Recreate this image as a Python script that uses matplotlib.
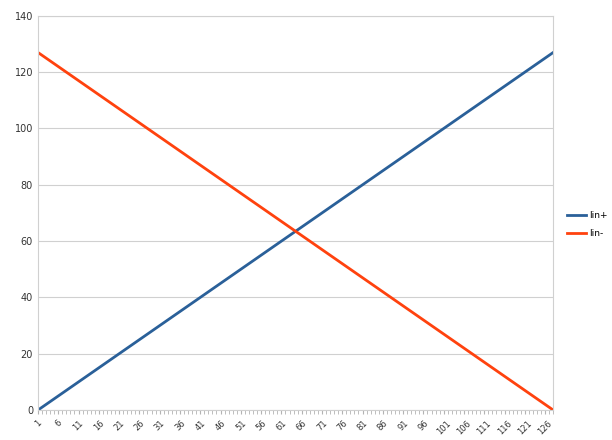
import numpy as np
import matplotlib.pyplot as plt

# categories 1..128, two linear series
categories = list(range(1, 129))
lin_plus = [v - 1 for v in categories]
lin_minus = [128 - v for v in categories]
tick_labels = [str(v) for v in categories if (v - 1) % 5 == 0]

fig = plt.figure(figsize=(6.12, 4.4), dpi=100)
ax = fig.add_axes([0.062, 0.068, 0.842, 0.896])

ax.plot(categories, lin_plus, color='#2a6099', lw=2, label='lin+')
ax.plot(categories, lin_minus, color='#ff420e', lw=2, label='lin-')

ax.set_xlim(1, 128)
ax.set_ylim(0, 140)
ax.set_yticks(range(0, 141, 20))
ax.set_xticks([v for v in categories if (v - 1) % 5 == 0])
ax.set_xticklabels(tick_labels, rotation=45, ha='center', fontsize=6, color='#333333')
ax.set_xticks(categories, minor=True)
ax.tick_params(axis='x', which='both', length=3, color='#b3b3b3', pad=3)
ax.tick_params(axis='y', length=0, labelsize=7, colors='#333333')
ax.yaxis.grid(True, color='#d0d0d0', lw=0.8)
ax.set_axisbelow(True)
for s in ax.spines.values():
    s.set_color('#d0d0d0')

ax.legend(loc='center left', bbox_to_anchor=(1.01, 0.47), frameon=False,
          fontsize=6.5, handlelength=2.2, handletextpad=0.3, labelspacing=1.0)

fig.savefig('out.png', dpi=100)
